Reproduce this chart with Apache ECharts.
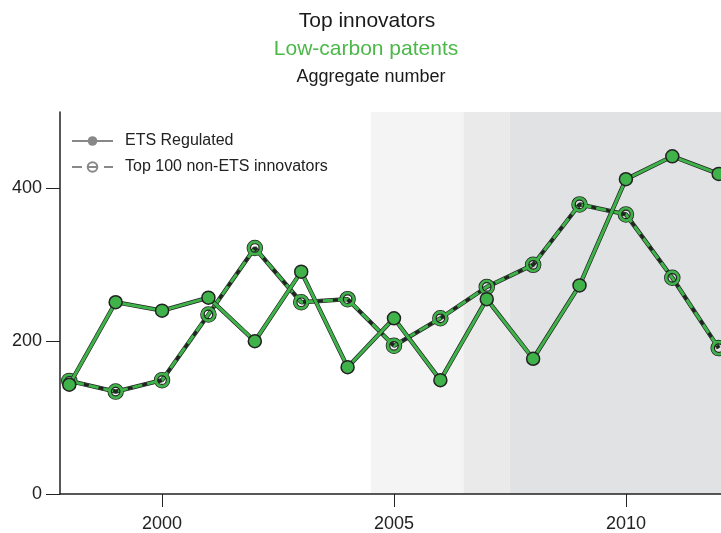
<!DOCTYPE html>
<html>
<head>
<meta charset="utf-8">
<script src="https://cdn.jsdelivr.net/npm/echarts@6/dist/echarts.min.js"></script>
<style>
  html, body { margin: 0; padding: 0; background: #fff; }
  #chart { width: 721px; height: 533px; }
</style>
</head>
<body>
<div id="chart"></div>
<script>
// data
const years = [1998, 1999, 2000, 2001, 2002, 2003, 2004, 2005, 2006, 2007, 2008, 2009, 2010, 2011, 2012]
const etsRegulated = [143, 251, 240, 257, 200, 291, 166, 230, 149, 255, 177, 273, 412, 442, 419]
const topNonEts = [148, 134, 149, 235, 322, 251, 255, 194, 230, 271, 300, 379, 366, 283, 191]
const xTicks = [2000, 2005, 2010]
const yTicks = [0, 200, 400]
// shaded periods [from, to]
const periods = [[2004.5, 2006.5], [2006.5, 2007.5], [2007.5, 2012.05]]
const periodColors = ['#f4f4f4', '#eaeaea', '#e1e2e4']

const green = '#3fb34a'
const dark = '#222222'
const font = 'Liberation Sans'

function pairs(vals) {
  return years.map((y, i) => [y, vals[i]])
}

const chart = echarts.init(document.getElementById('chart'))

const option = {
  animation: false,
  textStyle: { fontFamily: font },
  title: [
    { text: 'Top innovators', left: 362, textAlign: 'center', top: 6, textStyle: { fontSize: 21, fontWeight: 'normal', color: '#1a1a1a', fontFamily: font } },
    { text: 'Low-carbon patents', left: 361, textAlign: 'center', top: 34, textStyle: { fontSize: 21, fontWeight: 'normal', color: '#4cb849', fontFamily: font } },
    { text: 'Aggregate number', left: 366, textAlign: 'center', top: 63, textStyle: { fontSize: 18, fontWeight: 'normal', color: '#1a1a1a', fontFamily: font } }
  ],
  legend: {
    left: 66,
    top: 128,
    orient: 'vertical',
    itemWidth: 41,
    itemHeight: 12,
    itemGap: 10,
    textStyle: { fontSize: 16, color: '#222', fontFamily: font, padding: [0, 0, 0, 7] },
    data: ['ETS Regulated', 'Top 100 non-ETS innovators']
  },
  grid: { left: 60, right: 0, top: 112, bottom: 39 },
  xAxis: {
    type: 'value',
    z: 10,
    min: 1997.8,
    max: 2012.05,
    axisLine: { show: true, lineStyle: { color: dark, width: 1.5 } },
    axisTick: { show: true, length: 13, lineStyle: { color: dark }, customValues: xTicks },
    axisLabel: { fontSize: 18, color: '#222', margin: 21, customValues: xTicks, formatter: v => String(v) },
    splitLine: { show: false }
  },
  yAxis: {
    type: 'value',
    z: 10,
    min: 0,
    max: 500,
    axisLine: { show: true, lineStyle: { color: dark, width: 1.5 } },
    axisTick: { show: true, length: 14, lineStyle: { color: dark }, customValues: yTicks },
    axisLabel: { fontSize: 18, color: '#222', margin: 18, customValues: yTicks },
    splitLine: { show: false }
  },
  series: [
    // shading
    {
      type: 'line', name: 'bg', data: [], silent: true, z: 0,
      markArea: {
        silent: true,
        data: periods.map((p, i) => [
          { xAxis: p[0], itemStyle: { color: periodColors[i] } },
          { xAxis: p[1] }
        ])
      }
    },
    // legend-only series (grey icons)
    {
      type: 'line', name: 'ETS Regulated', data: [], silent: true,
      symbol: 'circle', symbolSize: 9,
      itemStyle: { color: '#888' },
      lineStyle: { color: '#888', width: 3 }
    },
    {
      type: 'line', name: 'Top 100 non-ETS innovators', data: [], silent: true,
      symbol: 'circle', symbolSize: 10,
      itemStyle: { color: 'transparent', borderColor: '#888', borderWidth: 2 },
      lineStyle: { color: '#888', width: 3, type: [10, 6] }
    },
    // non-ETS: outline, green line, dashes, marker rings
    {
      type: 'line', name: 'ne-outline', data: pairs(topNonEts), z: 2, silent: true,
      symbol: 'circle', symbolSize: 15,
      itemStyle: { color: 'transparent', borderColor: dark, borderWidth: 1.5 },
      lineStyle: { color: dark, width: 4.3 }
    },
    {
      type: 'line', name: 'ne-line', data: pairs(topNonEts), z: 3, silent: true,
      symbol: 'none',
      lineStyle: { color: green, width: 3 }
    },
    {
      type: 'line', name: 'ne-dash', data: pairs(topNonEts), z: 4, silent: true,
      symbol: 'circle', symbolSize: 12,
      itemStyle: { color: 'transparent', borderColor: green, borderWidth: 3 },
      lineStyle: { color: dark, width: 3, type: [5, 10] }
    },
    {
      type: 'line', name: 'ne-inner', data: pairs(topNonEts), z: 5, silent: true,
      symbol: 'circle', symbolSize: 8.5,
      itemStyle: { color: 'transparent', borderColor: dark, borderWidth: 1.2 },
      lineStyle: { width: 0, opacity: 0 }
    },
    // ETS: outline then green line with filled markers
    {
      type: 'line', name: 'ets-outline', data: pairs(etsRegulated), z: 6, silent: true,
      symbol: 'none',
      lineStyle: { color: dark, width: 4.3 }
    },
    {
      type: 'line', name: 'ets-line', data: pairs(etsRegulated), z: 7, silent: true,
      symbol: 'circle', symbolSize: 13,
      itemStyle: { color: green, borderColor: dark, borderWidth: 1.5 },
      lineStyle: { color: green, width: 3 }
    }
  ]
}

chart.setOption(option)
</script>
</body>
</html>
